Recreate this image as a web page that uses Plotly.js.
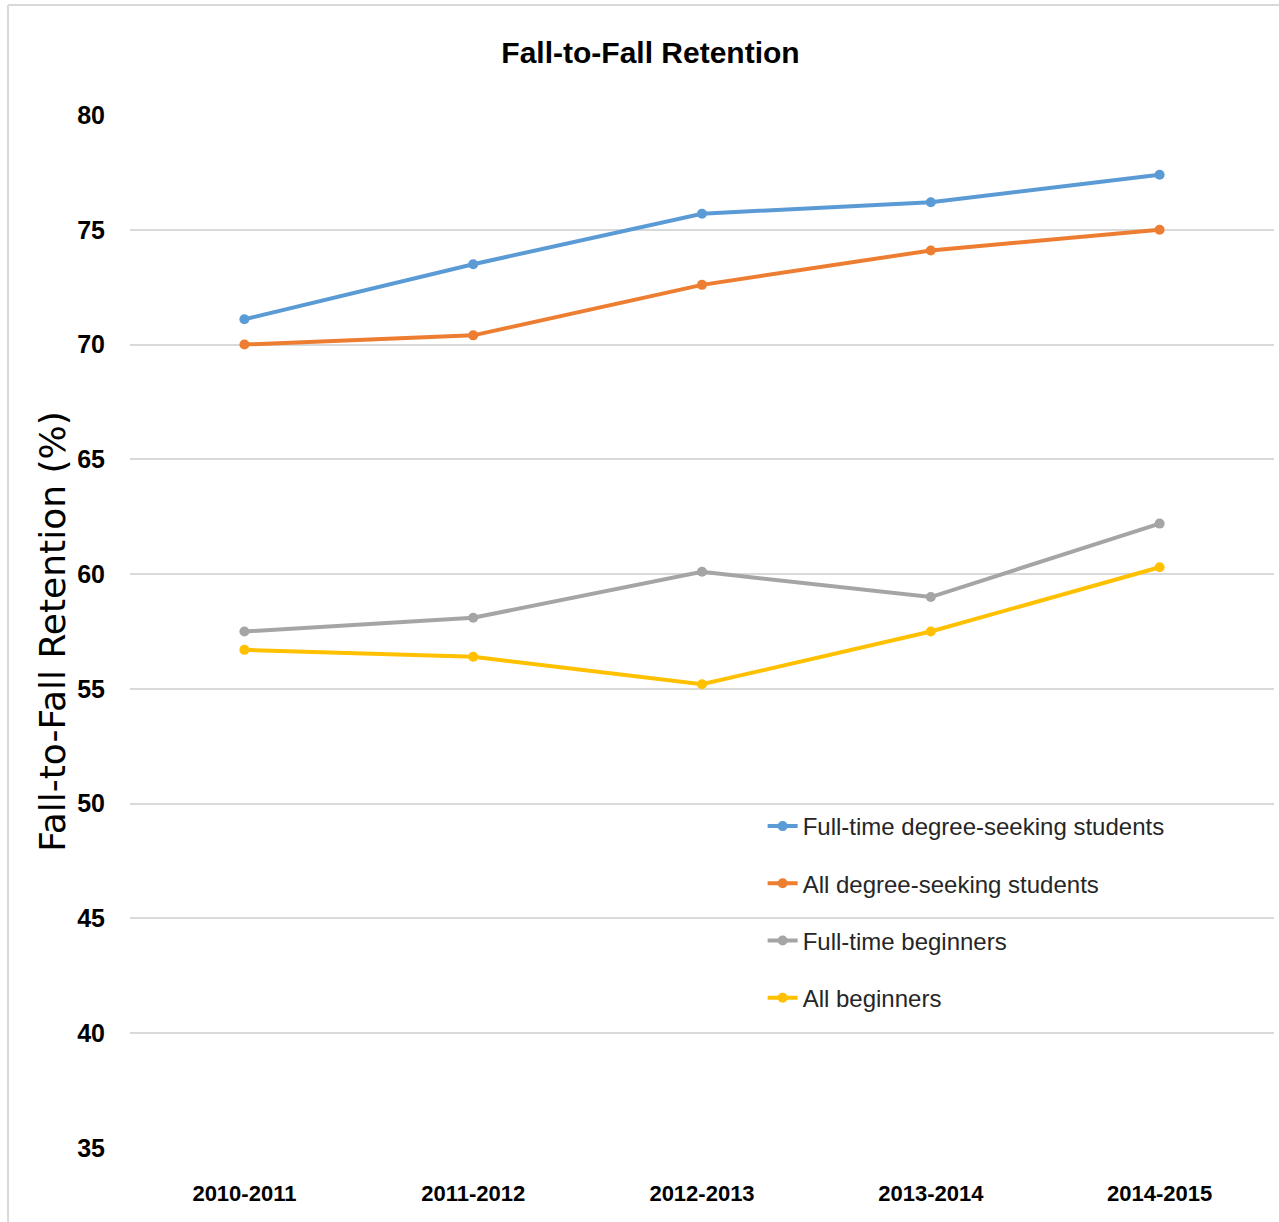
<!DOCTYPE html>
<html>
<head>
<meta charset="utf-8">
<script src="https://cdn.plot.ly/plotly-3.0.1.min.js"></script>
<style>html,body{margin:0;padding:0;background:#fff;}#chart{width:1279px;height:1222px;}</style>
</head>
<body>
<div id="chart"></div>
<script>
const years = ["2010-2011", "2011-2012", "2012-2013", "2013-2014", "2014-2015"];
const fullTimeDegreeSeeking = [71.1, 73.5, 75.7, 76.2, 77.4];
const allDegreeSeeking = [70.0, 70.4, 72.6, 74.1, 75.0];
const fullTimeBeginners = [57.5, 58.1, 60.1, 59.0, 62.2];
const allBeginners = [56.7, 56.4, 55.2, 57.5, 60.3];
const seriesNames = ["Full-time degree-seeking students", "All degree-seeking students", "Full-time beginners", "All beginners"];
const seriesColors = ["#5B9BD5", "#ED7D31", "#A5A5A5", "#FFC000"];
const yTicks = [35, 40, 45, 50, 55, 60, 65, 70, 75, 80];

const seriesValues = [fullTimeDegreeSeeking, allDegreeSeeking, fullTimeBeginners, allBeginners];
const traces = seriesValues.map((vals, i) => ({
  type: "scatter",
  mode: "lines+markers",
  x: years,
  y: vals,
  name: seriesNames[i],
  legendgroup: "g" + i,
  line: {color: seriesColors[i], width: 4},
  marker: {color: seriesColors[i], size: 10, symbol: "circle"},
  hoverinfo: "x+y+name"
}));

const sans = "Liberation Sans, Arial, sans-serif";
const layout = {
  width: 1279,
  height: 1222,
  paper_bgcolor: "#ffffff",
  plot_bgcolor: "#ffffff",
  margin: {l: 130, r: 5, t: 115, b: 74},
  title: {
    text: "<b>Fall-to-Fall Retention</b>",
    font: {family: sans, size: 30, color: "#000000"},
    x: 0.455, xref: "paper", xanchor: "center",
    y: 0.957, yref: "container", yanchor: "middle"
  },
  xaxis: {
    type: "category",
    range: [-0.5, 4.5],
    tickvals: years,
    ticktext: years.map(v => "<b>" + v + "</b>"),
    showgrid: false,
    zeroline: false,
    showline: false,
    ticks: "",
    tickfont: {family: sans, size: 22, color: "#000000"},
    ticklabelstandoff: 30,
    fixedrange: true
  },
  yaxis: {
    range: [35, 80],
    tickvals: yTicks,
    ticktext: yTicks.map(v => "<b>" + v + "</b>"),
    showgrid: true,
    gridcolor: "#D9D9D9",
    gridwidth: 2,
    zeroline: false,
    showline: false,
    ticks: "",
    ticklabelstandoff: 24,
    tickfont: {family: sans, size: 25, color: "#000000"},
    title: {
      text: "Fall-to-Fall Retention (%)",
      font: {family: "DejaVu Sans, Verdana, sans-serif", size: 36, color: "#000000"},
      standoff: 0
    },
    fixedrange: true
  },
  legend: {
    x: 0.553, xanchor: "left",
    y: 0.333, yanchor: "top",
    bgcolor: "rgba(255,255,255,0)",
    font: {family: sans, size: 24, color: "#262626"},
    traceorder: "grouped",
    tracegroupgap: 23,
    itemwidth: 30
  },
  shapes: [
    {type: "line", xref: "paper", yref: "paper", x0: -0.1066, x1: 1.01, y0: 1.1065, y1: 1.1065, line: {color: "#D9D9D9", width: 2}},
    {type: "line", xref: "paper", yref: "paper", x0: -0.1066, x1: -0.1066, y0: -0.075, y1: 1.1065, line: {color: "#D9D9D9", width: 2}}
  ]
};

Plotly.newPlot("chart", traces, layout, {displayModeBar: false, responsive: false});
</script>
</body>
</html>
